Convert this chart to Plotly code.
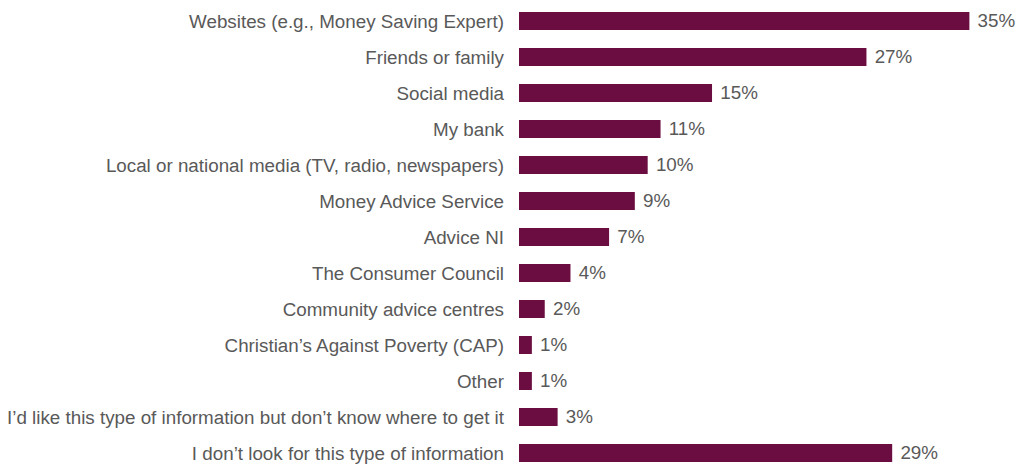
import plotly.graph_objects as go

categories = [
    "Websites (e.g., Money Saving Expert)",
    "Friends or family",
    "Social media",
    "My bank",
    "Local or national media (TV, radio, newspapers)",
    "Money Advice Service",
    "Advice NI",
    "The Consumer Council",
    "Community advice centres",
    "Christian’s Against Poverty (CAP)",
    "Other",
    "I’d like this type of information but don’t know where to get it",
    "I don’t look for this type of information",
]
values = [35, 27, 15, 11, 10, 9, 7, 4, 2, 1, 1, 3, 29]
labels = [f" {v}%" for v in values]

bar_color = "#6B0D40"
text_color = "#595959"
font_family = "Liberation Sans, Arial, sans-serif"
font_size = 18.8

fig = go.Figure(
    go.Bar(
        x=values,
        y=list(range(len(categories))),
        orientation="h",
        width=0.5,
        marker=dict(color=bar_color, line=dict(width=0)),
        text=labels,
        textposition="outside",
        textfont=dict(family=font_family, size=font_size, color=text_color),
        cliponaxis=False,
    )
)

fig.update_layout(
    width=1016,
    height=464,
    margin=dict(l=519, r=8, t=0, b=0),
    paper_bgcolor="white",
    plot_bgcolor="white",
    showlegend=False,
    uniformtext=dict(minsize=font_size, mode="show"),
    font=dict(family=font_family, size=font_size, color=text_color),
    xaxis=dict(
        range=[0, 38],
        visible=False,
        showgrid=False,
        zeroline=False,
    ),
    yaxis=dict(
        tickmode="array",
        tickvals=list(range(len(categories))),
        ticktext=categories,
        range=[12.306, -0.583],
        showgrid=False,
        zeroline=False,
        showline=False,
        ticks="",
        ticklabelstandoff=14,
        tickfont=dict(family=font_family, size=font_size, color=text_color),
    ),
)

fig.write_html("out.html")
